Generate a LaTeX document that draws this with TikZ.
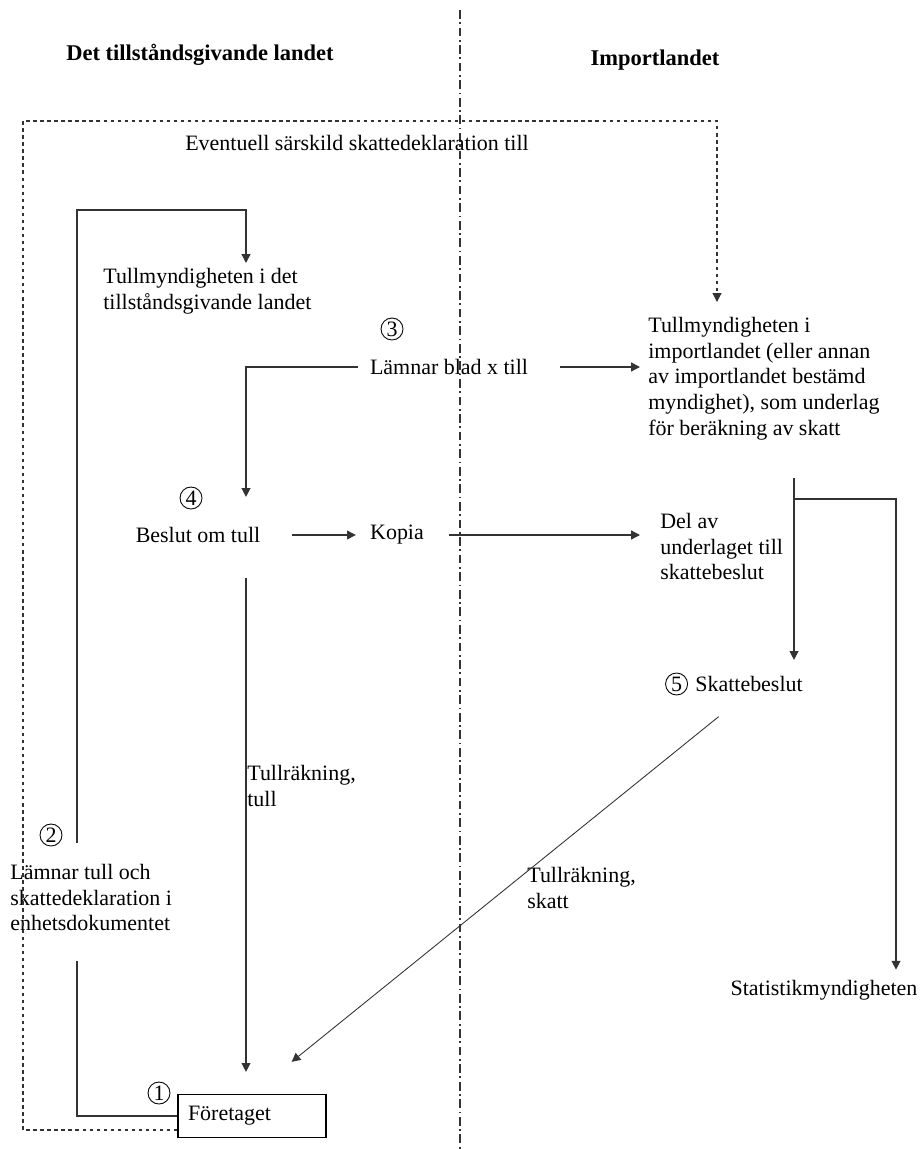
\documentclass[tikz,border=0pt]{standalone}
\usepackage{fontspec}
\setmainfont{Liberation Serif}
\usepackage{tikz}
\usetikzlibrary{arrows.meta,positioning,calc}

\begin{document}
\begin{tikzpicture}[
  x=0.02cm, y=-0.02cm,
  every node/.style={font=\fontsize{12.5}{14.6}\selectfont, inner sep=0pt, align=left},
  rubrik/.style={font=\fontsize{12.8}{14.6}\selectfont\bfseries},
  nr/.style={circle, draw, line width=0.5pt, inner sep=0pt, minimum size=0.44cm},
  linje/.style={line width=0.7pt, black!80},
  pil/.style={linje, -{Triangle[length=5pt,width=5pt]}},
  streck/.style={line width=0.6pt, black!80, dash pattern=on 2pt off 2pt},
  grans/.style={line width=0.6pt, black!80, dash pattern=on 5pt off 2pt on 1pt off 2pt}
]
\useasboundingbox (0,0) rectangle (920,1149);

% rubriker och skiljelinje
\node[rubrik] (land1) at (200,55) {Det tillståndsgivande landet};
\node[rubrik] (land2) at (655,60) {Importlandet};
\draw[grans] (460,10) -- (460,1149);

% noder
\node (evtl) at (357,143) {Eventuell särskild skattedeklaration till};
\node[anchor=north west] (tulltl) at (103,268) {Tullmyndigheten i det\\tillståndsgivande landet};
\node[nr] (nr3) at (392,329) {3};
\node (lamnar3) at (449,367) {Lämnar blad x till};
\node[anchor=north west] (tullimp) at (648,317) {Tullmyndigheten i\\importlandet (eller annan\\av importlandet bestämd\\myndighet), som underlag\\för beräkning av skatt};
\node[nr] (nr4) at (191,498) {4};
\node (beslut) at (198,535) {Beslut om tull};
\node (kopia) at (397,535) {Kopia};
\node[anchor=north west] (delav) at (660,513) {Del av\\underlaget till\\skattebeslut};
\node[anchor=west] (skatte) at (695,684) {Skattebeslut};
\node[nr, left=0.14cm of skatte] (nr5) {5};
\node (statistik) at (824,990) {Statistikmyndigheten};
\node[anchor=north west] (tullr1) at (247,765) {Tullräkning,\\tull};
\node[anchor=north west] (tullr2) at (527,867) {Tullräkning,\\skatt};
\node[nr] (nr2) at (51,835) {2};
\node[anchor=north west] (lamnar2) at (10,864) {Lämnar tull och\\skattedeklaration i\\enhetsdokumentet};
\node[draw, line width=0.7pt, minimum width=2.96cm, minimum height=0.86cm,
      text width=2.56cm, inner xsep=0.2cm] (foretag) at (252,1116) {Företaget};
\node[nr] (nr1) at (159,1093) {1};

% hjälppunkter
\coordinate (xl) at (77,0);
\coordinate (xv) at (246,0);
\coordinate (xr) at (717,0);
\coordinate (xh) at (794,0);
\coordinate (xs) at (896,0);
\coordinate (yt) at (0,210);
\coordinate (yg) at (0,499);
\coordinate (yb) at (0,1130);
\coordinate (hörn) at (23,121);

% ram
\draw[streck, -{Triangle[length=5pt,width=5pt]}, shorten >=0.3cm]
  (foretag.west |- yb) -| (hörn) -| (tullimp.north -| xr);

% pilar
\draw[pil, shorten <=0.42cm, shorten >=0.1cm] (lamnar2.north -| xl) -- (xl |- yt) -| (tulltl.north -| xv);
\draw[pil, shorten <=0.24cm, shorten >=0.6cm] (lamnar3.west) -| (beslut.north -| xv);
\draw[pil, shorten <=0.64cm, shorten >=0.16cm] (lamnar3.east) -- (lamnar3.east -| tullimp.west);
\draw[pil, shorten <=0.62cm, shorten >=0.28cm] (beslut.east) -- (kopia.west);
\draw[pil, shorten <=0.5cm, shorten >=0.4cm] (kopia.east) -- (kopia.east -| delav.west);
\draw[pil, shorten <=0.76cm, shorten >=0.32cm] (tullimp.south -| xh) -- (skatte.north -| xh);
\draw[pil, shorten >=0.2cm] (xh |- yg) -| (statistik.north -| xs);
\draw[pil, line width=0.5pt, shorten <=0.78cm, shorten >=1.02cm] (skatte.south) -- (foretag.north);
\draw[pil, shorten <=0.7cm, shorten >=0.44cm] (beslut.south -| xv) -- (foretag.north -| xv);
\draw[linje, shorten <=0.6cm] (lamnar2.south -| xl) |- (foretag.west);
\end{tikzpicture}
\end{document}
